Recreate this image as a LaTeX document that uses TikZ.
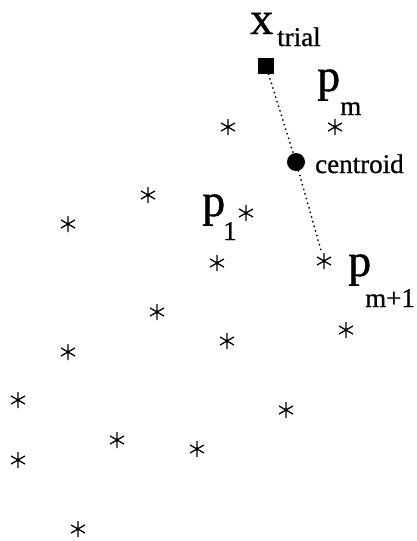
\documentclass[tikz,border=0pt]{standalone}
\usepackage{fontspec}
\setmainfont{Liberation Serif}[FakeBold=0.8]
\tikzset{
  asterisk/.style={rectangle, inner sep=0pt, minimum size=17pt,
    path picture={
      \draw[line width=1.3pt] (path picture bounding box.center)
        +(90:8pt) -- +(270:8pt)
        +(30:8pt) -- +(210:8pt)
        +(150:8pt) -- +(330:8pt);
      \fill (path picture bounding box.center) circle (1.5pt);
    }},
  bigsym/.style={inner sep=0pt, anchor=base west, font=\fontsize{46}{46}\selectfont},
  subsym/.style={inner sep=0pt, anchor=base west, font=\fontsize{27}{27}\selectfont},
  trialpt/.style={rectangle, fill=black, inner sep=0pt, minimum size=16pt},
  centpt/.style={circle, fill=black, inner sep=0pt, minimum size=18pt},
  dotline/.style={line width=2pt, line cap=round, dash pattern=on 0pt off 4.8pt},
}
\begin{document}
\begin{tikzpicture}[x=1pt, y=-1pt]
\useasboundingbox (0,0) rectangle (416,541);

% simplex vertices
\foreach \n/\px/\py in {1/228/127, 2/335/127, 3/148/195, 4/246/213, 5/68/224,
    6/217/263, 7/324/261, 8/157/312, 9/68/352, 10/227/341, 11/346/330,
    12/18/400, 13/286/410, 14/117/440, 15/197/449, 16/18/460, 17/78/529}
  \node[asterisk] (s\n) at (\px,\py) {};

% trial point and centroid
\node[trialpt] (xt) at (266,66) {};
\node[centpt] (cen) at (296,162) {};

% reflection line
\draw[dotline] (xt) -- (cen);
\draw[dotline] (cen) -- (s7);

% labels
\node[bigsym] (xlab) at (250,34) {x};
\node[subsym] (xsub) at (277,46) {trial};
\node[bigsym] (pmlab) at (317,91) {p};
\node[subsym] (pmsub) at (340,115) {m};
\node[bigsym] (p1lab) at (202,216) {p};
\node[subsym] (p1sub) at (223,240) {1};
\node[bigsym] (pm1lab) at (348,276) {p};
\node[subsym] (pm1sub) at (365,307) {m+1};
\node[subsym] (centlab) at (315,173) {centroid};
\end{tikzpicture}
\end{document}
